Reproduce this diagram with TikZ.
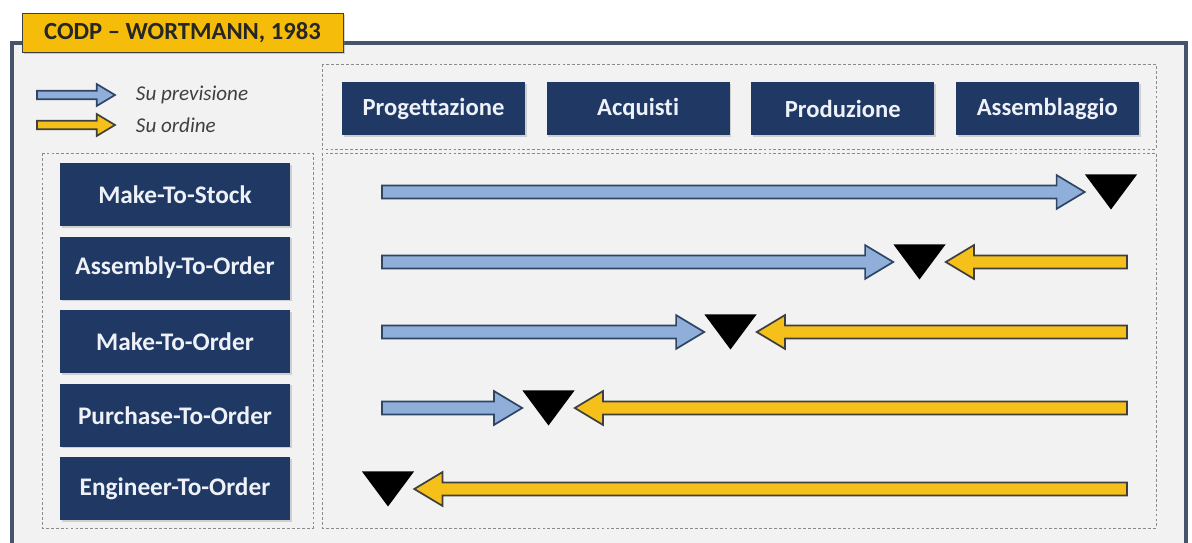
\documentclass[tikz,border=0pt]{standalone}
\usepackage{fontspec}
\setmainfont{Carlito}[Ligatures={TeX,NoCommon}]
\usetikzlibrary{positioning, calc, shadows}

\definecolor{navy}{HTML}{1F3864}
\definecolor{boxtext}{HTML}{EEF2F8}
\definecolor{skyfill}{HTML}{8FAFDA}
\definecolor{skyline}{HTML}{2E4563}
\definecolor{goldfill}{HTML}{F5C01A}
\definecolor{goldline}{HTML}{3F3F3F}
\definecolor{framecol}{HTML}{44546A}
\definecolor{panel}{HTML}{F2F2F2}
\definecolor{titlefill}{HTML}{F5BD0A}
\definecolor{dashcol}{HTML}{8A8A8A}

% block arrow from #3 to #4, #1 = size factor
\newcommand{\fatarrow}[4][1]{%
  \filldraw[#2] let \p1=(#3), \p2=(#4),
    \n1={ifthenelse(\x2>\x1,1,-1)},
    \n2={#1*4.6}, \n3={#1*12}, \n4={#1*20} in
    (\x1,{\y1+\n2*1pt}) -- ({\x2-(\n1)*\n4*1pt},{\y1+\n2*1pt})
    -- ({\x2-(\n1)*\n4*1pt},{\y1+\n3*1pt}) -- (\x2,\y1)
    -- ({\x2-(\n1)*\n4*1pt},{\y1-\n3*1pt}) -- ({\x2-(\n1)*\n4*1pt},{\y1-\n2*1pt})
    -- (\x1,{\y1-\n2*1pt}) -- cycle;}

\begin{document}
\begin{tikzpicture}[
    x=0.025cm, y=-0.025cm,
    node distance=0.25cm,
    phase/.style={fill=navy, text=boxtext, font=\bfseries\fontsize{17.5}{20}\selectfont,
      minimum width=4.575cm, minimum height=1.325cm, inner sep=0pt,
      drop shadow={shadow xshift=1.2pt, shadow yshift=-1.2pt, opacity=0.3}},
    mode/.style={phase, font=\bfseries\fontsize{18}{20}\selectfont,
      minimum width=5.75cm, minimum height=1.575cm},
    codp/.style={minimum width=1.3cm, minimum height=0.875cm, inner sep=0pt,
      path picture={\fill[black] (path picture bounding box.north west)
        -- (path picture bounding box.north east)
        -- (path picture bounding box.south) -- cycle;}},
    legtext/.style={anchor=west, text=black!75, font=\itshape\fontsize{15}{17}\selectfont},
    area/.style={draw=dashcol, line width=0.6pt, dash pattern=on 2pt off 1.5pt},
    forecastarrow/.style={fill=skyfill, draw=skyline, line width=1.2pt},
    orderarrow/.style={fill=goldfill, draw=goldline, line width=1.2pt}
]
\path[use as bounding box] (0,0) rectangle (1192,543);
\clip (0,0) rectangle (1192,543);

% Frame
\draw[framecol, line width=2.2pt, fill=panel] (12,43) rectangle (1186,580);
\node[fill=titlefill, draw=goldline, line width=0.6pt, minimum width=8.025cm, minimum height=0.975cm,
  text=black!85, font=\bfseries\fontsize{17.5}{19}\selectfont,
  drop shadow={shadow xshift=1.5pt, shadow yshift=-1.5pt, opacity=0.35}] (title) at (182.5,32.5) {CODP – WORTMANN, 1983};

% Dashed areas
\draw[area] (322,64) rectangle (1156,149);
\draw[area] (42,153) rectangle (313,528);
\draw[area] (322,153) rectangle (1156,528);

% Legend
\coordinate (lb1) at (37,95);
\coordinate (lb2) at (115,95);
\coordinate (lg1) at (37,125);
\coordinate (lg2) at (115,125);
\fatarrow[0.65]{forecastarrow}{lb1}{lb2}
\fatarrow[0.65]{orderarrow}{lg1}{lg2}
\node[legtext] (lprev) at (131,95) {Su previsione};
\node[legtext] (lord) at (131,125) {Su ordine};

% Phases
\node[phase] (prog) at (433.5,108.5) {Progettazione};
\node[phase, right=0.525cm of prog] (acq) {Acquisti};
\node[phase, right=0.525cm of acq] (prod) {Produzione};
\node[phase, right=0.525cm of prod] (ass) {Assemblaggio};

% Strategies
\node[mode] (mts) at (175,194.5) {Make-To-Stock};
\node[mode, below=of mts] (ato) {Assembly-To-Order};
\node[mode, below=of ato] (mto) {Make-To-Order};
\node[mode, below=of mto] (pto) {Purchase-To-Order};
\node[mode, below=of pto] (eto) {Engineer-To-Order};

% Decoupling points
\node[codp] (d1) at (1111,192) {};
\node[codp] (d2) at (919.5,262) {};
\node[codp] (d3) at (730.5,332) {};
\node[codp] (d4) at (548.5,408) {};
\node[codp] (d5) at (388,489) {};

\coordinate (b1) at (382,192);
\coordinate (b2) at (382,262);
\coordinate (b3) at (382,332);
\coordinate (b4) at (382,408);
\coordinate (g2) at (1127,262);
\coordinate (g3) at (1127,332);
\coordinate (g4) at (1127,408);
\coordinate (g5) at (1127,489);

% Arrows
\fatarrow{forecastarrow}{b1}{d1.west}
\fatarrow{forecastarrow}{b2}{d2.west}
\fatarrow{orderarrow}{g2}{d2.east}
\fatarrow{forecastarrow}{b3}{d3.west}
\fatarrow{orderarrow}{g3}{d3.east}
\fatarrow{forecastarrow}{b4}{d4.west}
\fatarrow{orderarrow}{g4}{d4.east}
\fatarrow{orderarrow}{g5}{d5.east}

\end{tikzpicture}
\end{document}
